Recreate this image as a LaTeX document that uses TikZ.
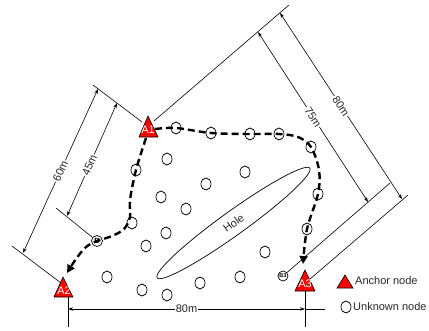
\documentclass[tikz,border=0pt]{standalone}
\usepackage{fontspec}
\setmainfont{Liberation Sans}
\usetikzlibrary{arrows.meta,shapes.geometric}
\begin{document}
\begin{tikzpicture}[x=1pt,y=-1pt,
  unk/.style={draw, ellipse, minimum width=10pt, minimum height=12pt, inner sep=0pt, line width=0.7pt},
  anc/.style={draw=black, fill=red, line width=0.6pt},
  anclbl/.style={text=white, font=\fontsize{11}{11}\selectfont, inner sep=0pt},
  thinline/.style={line width=0.6pt},
  dim/.style={line width=0.6pt, {Stealth[length=5pt,width=3.4pt]}-{Stealth[length=5pt,width=3.4pt]}},
  dimlbl/.style={fill=white, inner sep=1pt, text=black!85, font=\fontsize{11}{11}\selectfont, sloped},
  route/.style={line width=2.4pt, dash pattern=on 7pt off 4pt, -{Triangle[length=8pt,width=8pt]}},
  txt/.style={text=black!85, font=\fontsize{11}{11}\selectfont, inner sep=0pt}
]
\useasboundingbox (0,0) rectangle (429,330);

% hole
\node[draw, ellipse, minimum width=188pt, minimum height=24pt, inner sep=0pt, line width=0.7pt,
      rotate=35.7, txt] (hole) at (233.5,223) {Hole};

% anchors
\filldraw[anc] (148,116) -- (158,137) -- (139,137) -- cycle;
\node[anclbl] (A1) at (148,130) {A1};
\filldraw[anc] (63,277) -- (73,297) -- (54,297) -- cycle;
\node[anclbl] (A2) at (64,291) {A2};
\filldraw[anc] (305,270) -- (315,291) -- (295,291) -- cycle;
\node[anclbl] (A3) at (305,284) {A3};

% unknown nodes on routes
\node[unk] (t1) at (176,128) {};
\node[unk] (t2) at (211,133) {};
\node[unk] (t3) at (250,134) {};
\node[unk] (t4) at (279,134) {};
\node[unk] (t5) at (311,147) {};
\node[unk] (t6) at (318,194) {};
\node[unk] (t7) at (307,229) {};
\node[unk] (l1) at (136,170) {};
\node[unk] (l2) at (132,223) {};
% other unknown nodes
\node[unk] (u1) at (167,159) {};
\node[unk] (u2) at (206,184) {};
\node[unk] (u3) at (245,172) {};
\node[unk] (u4) at (161,197) {};
\node[unk] (u5) at (186,209) {};
\node[unk] (u6) at (166,233) {};
\node[unk] (u7) at (146,246) {};
\node[unk] (u8) at (107,277) {};
\node[unk] (u9) at (142,290) {};
\node[unk] (u10) at (167,295) {};
\node[unk] (u11) at (200,283) {};
\node[unk] (u12) at (240,277) {};
\node[unk] (u13) at (265,252) {};
\node[unk, minimum width=11pt, minimum height=11pt, font=\bfseries\fontsize{7.5}{7.5}\selectfont] (B) at (97,241) {B};
\node[unk, minimum width=10pt, minimum height=10pt, font=\bfseries\fontsize{5.5}{5.5}\selectfont] (B3) at (283,276) {B3};

% coordinates
\coordinate (A1r) at (155,129);
\coordinate (A1b) at (146,138);
\coordinate (A2in) at (67,273);
\coordinate (A3in) at (303,264);
\coordinate (eA1a) at (93,85);
\coordinate (eA1b) at (142,122);
\coordinate (eA2a) at (12,246);
\coordinate (eA2b) at (61,283);
\coordinate (eBa) at (56,208);
\coordinate (eA1c) at (154,121);
\coordinate (eA1d) at (289,5);
\coordinate (eA3a) at (310,279);
\coordinate (eA3b) at (408,195);
\coordinate (eB3b) at (390,183);
\coordinate (d60a) at (23,253);
\coordinate (d60b) at (98,89);
\coordinate (d45a) at (67,216);
\coordinate (d45b) at (117,103);
\coordinate (d80a) at (280,13);
\coordinate (d80b) at (402,199);
\coordinate (d75a) at (258,32);
\coordinate (d75b) at (368,202);
\coordinate (bl) at (68,309);
\coordinate (br) at (305,309);
\coordinate (bre) at (325,309);
\coordinate (vla) at (68,297);
\coordinate (vlb) at (68,327);
\coordinate (vra) at (305,291);
\coordinate (vrb) at (305,327);

% extension lines
\draw[thinline] (eA1a) -- (eA1b);
\draw[thinline] (eA2a) -- (eA2b);
\draw[thinline] (eBa) -- (B);
\draw[thinline] (eA1c) -- (eA1d);
\draw[thinline] (eA3a) -- (eA3b);
\draw[thinline] (B3) -- (eB3b);
\draw[thinline] (vla) -- (vlb);
\draw[thinline] (vra) -- (vrb);
\draw[thinline] (br) -- (bre);

% dimension lines
\draw[dim] (d60a) -- node[dimlbl] {60m} (d60b);
\draw[dim] (d45a) -- node[dimlbl, pos=0.45] {45m} (d45b);
\draw[dim] (d80a) -- node[dimlbl] {80m} (d80b);
\draw[dim] (d75a) -- node[dimlbl] {75m} (d75b);
\draw[dim] (bl) -- node[dimlbl] {80m} (br);

% routes
\draw[route] plot[smooth, tension=0.55] coordinates {(A1r) (t1.center) (t2.center) (t3.center) (t4.center) (298,137) (t5.center) (319,170) (t6.center) (t7.center) (A3in)};
\draw[route] plot[smooth, tension=0.55] coordinates {(A1b) (l1.center) (130,200) (130,217) (124,229) (112,236) (B.center) (86,247) (76,259) (A2in)};

% legend
\filldraw[anc] (345,275) -- (353,288) -- (337,288) -- cycle;
\node[txt, anchor=west] (lgA) at (355,281) {Anchor node};
\node[unk] (lgU) at (346,307) {};
\node[txt, anchor=west] (lgUt) at (353,307) {Unknown node};
\end{tikzpicture}
\end{document}
